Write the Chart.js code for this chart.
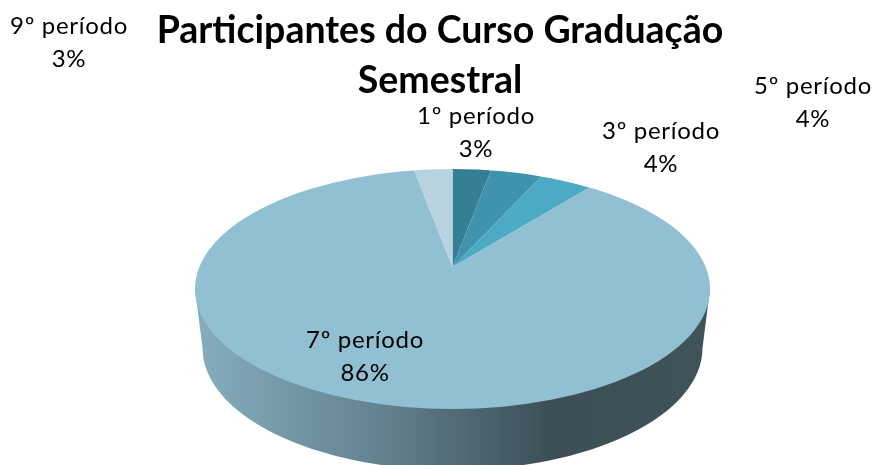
<!DOCTYPE html>
<html>
<head>
<meta charset="utf-8">
<style>html,body{margin:0;padding:0;background:#fff}#wrap{width:875px;height:465px}</style>
<script src="https://cdn.jsdelivr.net/npm/chart.js@4/dist/chart.umd.min.js"></script>
</head>
<body>
<div id="wrap"><canvas id="c" width="875" height="465"></canvas></div>
<script>
const categories = ['1º período', '3º período', '5º período', '7º período', '9º período'];
const shares = [3, 4, 4, 86, 3];
const sliceColors = ['#367E94', '#4093AC', '#4CAAC5', '#91C0D3', '#B7D3E0'];
const titleLines = ['Participantes do Curso Graduação', 'Semestral'];

const FONT = 'Lato, sans-serif';
const labelSpots = [[476, 116], [661, 131], [813, 86], [365, 340], [69, 26]];
const LINE_GAP = 33;
const top3d = {cx: 452.5, cy: 289, rx: 257.5, ry: 120};
const bottom3d = {cx: 452.5, cy: 348, rx: 250, ry: 122};
const apex = {x: 452.5, y: 267};
const tilt = 0.48, reach = 330;

const pie3d = {
  id: 'pie3d',
  beforeDatasetsDraw(chart) {
    const ctx = chart.ctx;
    const arc = chart.getDatasetMeta(0).data[0];
    // wall
    ctx.save();
    const g = ctx.createLinearGradient(top3d.cx - top3d.rx, 0, top3d.cx + top3d.rx, 0);
    g.addColorStop(0, '#86AEBE');
    g.addColorStop(0.35, '#648390');
    g.addColorStop(0.69, '#3C4F56');
    g.addColorStop(1, '#3F5359');
    ctx.fillStyle = g;
    ctx.beginPath();
    ctx.moveTo(top3d.cx - top3d.rx, top3d.cy);
    ctx.lineTo(bottom3d.cx - bottom3d.rx, bottom3d.cy);
    ctx.ellipse(bottom3d.cx, bottom3d.cy, bottom3d.rx, bottom3d.ry, 0, Math.PI, 0, true);
    ctx.lineTo(top3d.cx + top3d.rx, top3d.cy);
    ctx.closePath();
    ctx.fill();
    ctx.restore();
    // top face
    ctx.save();
    ctx.beginPath();
    ctx.ellipse(top3d.cx, top3d.cy, top3d.rx, top3d.ry, 0, 0, Math.PI * 2);
    ctx.clip();
    const s = reach / arc.outerRadius;
    ctx.translate(apex.x, apex.y);
    ctx.scale(s, s * tilt);
    ctx.translate(-arc.x, -arc.y);
  },
  afterDatasetsDraw(chart) {
    const ctx = chart.ctx;
    ctx.restore();
    ctx.save();
    ctx.fillStyle = '#000';
    ctx.font = '24px ' + FONT;
    ctx.letterSpacing = '0.7px';
    ctx.textAlign = 'center';
    ctx.textBaseline = 'middle';
    categories.forEach((name, i) => {
      const [x, y] = labelSpots[i];
      ctx.fillText(name, x, y);
      ctx.fillText(shares[i] + '%', x, y + LINE_GAP);
    });
    ctx.restore();
  }
};

new Chart(document.getElementById('c'), {
  type: 'pie',
  data: {
    labels: categories,
    datasets: [{data: shares, backgroundColor: sliceColors, borderWidth: 0, clip: false}]
  },
  options: {
    responsive: false,
    animation: false,
    events: [],
    layout: {padding: {left: 5}},
    plugins: {
      legend: {display: false},
      tooltip: {enabled: false},
      title: {
        display: true,
        text: titleLines,
        color: '#000',
        font: {family: FONT, size: 37.5, weight: 'bold', lineHeight: 1.335},
        padding: {top: 6, bottom: 0}
      }
    }
  },
  plugins: [pie3d]
});
</script>
</body>
</html>
